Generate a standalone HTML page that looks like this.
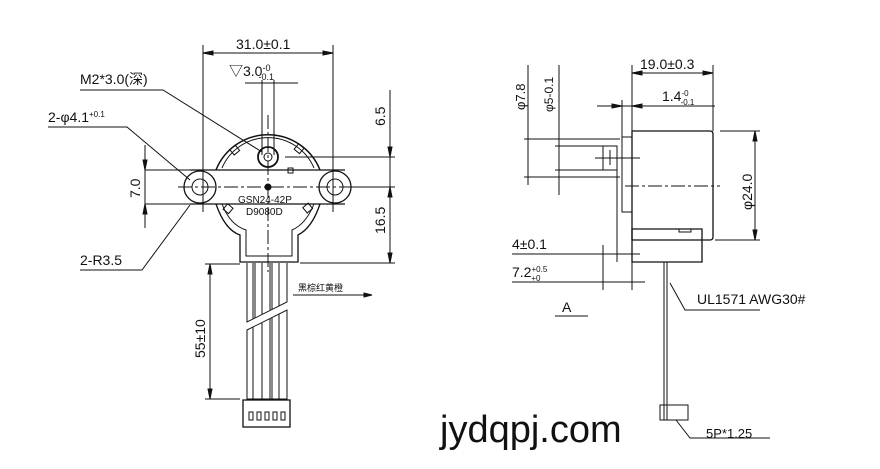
<!DOCTYPE html>
<html><head><meta charset="utf-8"><style>
body{margin:0;background:#fff}
svg{display:block}
text{font-family:"Liberation Sans","Noto Sans CJK SC",sans-serif;fill:#111}
</style></head><body>
<svg width="880" height="469" viewBox="0 0 880 469" stroke="#111" fill="none" stroke-width="1">
<!-- LEFT VIEW -->
<line x1="203" y1="45" x2="203" y2="212"/><line x1="333" y1="45" x2="333" y2="212"/>
<line x1="203" y1="53" x2="333" y2="53"/>
<path d="M203 53l10-2v4zM333 53l-10-2v4z" fill="#111"/>
<text x="236" y="49" font-size="14" stroke="none">31.0±0.1</text>
<text x="229" y="76" font-size="14" stroke="none">▽3.0<tspan font-size="9" dy="-5">-0</tspan><tspan font-size="9" dx="-12" dy="9">-0.1</tspan></text>
<line x1="245" y1="83" x2="298" y2="83"/>
<line x1="262" y1="80" x2="262" y2="155"/><line x1="274" y1="80" x2="274" y2="155"/>
<path d="M216 170 A56 56 0 0 1 320 170" stroke-width="1.5"/>
<path d="M222 168 A50 50 0 0 1 314 168"/>
<path d="M190 170 H345 M190 204 H345" stroke-width="1.3"/>
<circle cx="200" cy="187" r="16" stroke-width="1.3"/><circle cx="200" cy="187" r="8"/>
<circle cx="335" cy="187" r="16" stroke-width="1.3"/><circle cx="335" cy="187" r="8"/>
<path d="M216 204 Q225 230 240 235 L240 262 H298 V235 Q312 228 320 204" stroke-width="1.3"/>
<path d="M222 204 Q230 225 246 230 L246 256 H292 V230 Q306 224 314 204"/>
<circle cx="268" cy="157" r="10" stroke-width="1.8"/><circle cx="268" cy="157" r="4"/>
<rect x="231" y="147" width="7" height="7" transform="rotate(-40 234 150)"/>
<rect x="296" y="145" width="7" height="7" transform="rotate(40 299 148)"/>
<rect x="225" y="205" width="7" height="7" transform="rotate(40 228 208)"/>
<rect x="304" y="205" width="7" height="7" transform="rotate(-40 307 208)"/>
<circle cx="268" cy="187" r="3" fill="#111"/>
<rect x="288" y="168" width="5" height="5"/>
<text x="238" y="203" font-size="10" stroke="none">GSN24-42P</text>
<text x="246" y="215" font-size="10" stroke="none">D9080D</text>
<line x1="178" y1="187" x2="358" y2="187" stroke-dasharray="14 3 3 3"/>
<line x1="268" y1="115" x2="268" y2="272" stroke-dasharray="14 3 3 3"/>
<line x1="285" y1="157" x2="395" y2="157"/><line x1="345" y1="187" x2="395" y2="187"/><line x1="300" y1="263" x2="395" y2="263"/>
<line x1="390" y1="90" x2="390" y2="263"/>
<path d="M390 157l-2-10h4zM390 187l-2 10h4zM390 263l-2-10h4z" fill="#111"/>
<text x="0" y="0" font-size="14" stroke="none" transform="translate(385 126) rotate(-90)">6.5</text>
<text x="0" y="0" font-size="14" stroke="none" transform="translate(385 234) rotate(-90)">16.5</text>
<line x1="145" y1="170" x2="200" y2="170"/><line x1="145" y1="204" x2="200" y2="204"/>
<line x1="145" y1="145" x2="145" y2="228"/>
<path d="M145 170l-2-10h4zM145 204l-2 10h4z" fill="#111"/>
<text x="0" y="0" font-size="14" stroke="none" transform="translate(140 198) rotate(-90)">7.0</text>
<text x="80" y="84" font-size="14" stroke="none">M2*3.0(深)</text>
<path d="M80 90 H163 L262 152"/>
<text x="48" y="122" font-size="14" stroke="none">2-φ4.1<tspan font-size="8" dy="-5">+0.1</tspan></text>
<path d="M48 127 H127 L190 180"/>
<text x="80" y="265" font-size="14" stroke="none">2-R3.5</text>
<path d="M80 270 H142 L190 205"/>
<!-- wires -->
<path d="M247 263 V322 L287 302 V263"/>
<path d="M247 330 L287 310 V399 H247 Z"/>
<path d="M253 263 V319 M255 263 V318 M262 263 V314 M270 263 V310 M272 263 V309 M279 263 V306"/>
<path d="M253 327 V399 M262 323 V399 M270 319 V399 M272 318 V399 M279 314 V399"/>
<rect x="243" y="400" width="47" height="27" stroke-width="1.3"/>
<path d="M249 412h4v8h-4zM257 412h4v8h-4zM265 412h4v8h-4zM273 412h4v8h-4zM281 412h4v8h-4z"/>
<line x1="205" y1="264" x2="240" y2="264"/><line x1="205" y1="399" x2="240" y2="399"/>
<line x1="210" y1="264" x2="210" y2="399"/>
<path d="M210 264l-2 10h4zM210 399l-2-10h4z" fill="#111"/>
<text x="0" y="0" font-size="14" stroke="none" transform="translate(205 358) rotate(-90)">55±10</text>
<text x="298" y="291" font-size="9" stroke="none">黑棕红黄橙</text>
<line x1="293" y1="295" x2="372" y2="295"/>
<path d="M372 295l-8-2v4z" fill="#111"/>
<!-- RIGHT VIEW -->
<path d="M632 131 H710 Q713 131 713 134 V237 Q713 240 710 240 H632 Z" stroke-width="1.3"/>
<path d="M622 137 H632 V212 H622 Z"/>
<path d="M603 146 H617 V170 H603 Z"/>
<line x1="617" y1="146" x2="617" y2="262"/>
<path d="M632 229 H702 V262 H632 Z" stroke-width="1.3"/>
<path d="M679 229h12v3h-12z"/>
<line x1="595" y1="158" x2="640" y2="158"/><line x1="610" y1="150" x2="610" y2="165"/>
<line x1="625" y1="186" x2="720" y2="186" stroke-dasharray="14 3 3 3"/>
<path d="M664 262 V420 M667 262 V420"/>
<path d="M660 405h28v15h-28z"/>
<line x1="632" y1="65" x2="632" y2="131"/><line x1="713" y1="65" x2="713" y2="131"/>
<line x1="632" y1="73" x2="713" y2="73"/>
<path d="M632 73l10-2v4zM713 73l-10-2v4z" fill="#111"/>
<text x="640" y="69" font-size="14" stroke="none">19.0±0.3</text>
<text x="662" y="101" font-size="14" stroke="none">1.4<tspan font-size="8" dy="-5">-0</tspan><tspan font-size="8" dx="-8" dy="9">-0.1</tspan></text>
<line x1="597" y1="106" x2="715" y2="106"/><line x1="622" y1="100" x2="622" y2="137"/>
<path d="M622 106l-10-2v4zM632 106l10-2v4z" fill="#111"/>
<line x1="720" y1="131" x2="760" y2="131"/><line x1="715" y1="240" x2="760" y2="240"/>
<line x1="755" y1="131" x2="755" y2="240"/>
<path d="M755 131l-2 10h4zM755 240l-2-10h4z" fill="#111"/>
<text x="0" y="0" font-size="14" stroke="none" transform="translate(752 210) rotate(-90)">φ24.0</text>
<line x1="528" y1="65" x2="528" y2="185"/><line x1="559" y1="65" x2="559" y2="195"/>
<line x1="524" y1="139" x2="620" y2="139"/><line x1="524" y1="177" x2="620" y2="177"/>
<line x1="555" y1="146" x2="603" y2="146"/><line x1="555" y1="170" x2="603" y2="170"/>
<text x="0" y="0" font-size="13" stroke="none" transform="translate(525 110) rotate(-90)">φ7.8</text>
<text x="0" y="0" font-size="12" stroke="none" transform="translate(553 112) rotate(-90)">φ5-0.1</text>
<line x1="512" y1="254" x2="640" y2="254"/><line x1="512" y1="282" x2="645" y2="282"/>
<line x1="603" y1="245" x2="603" y2="290"/><line x1="632" y1="262" x2="632" y2="290"/>
<text x="512" y="249" font-size="14" stroke="none">4±0.1</text>
<text x="512" y="277" font-size="14" stroke="none">7.2<tspan font-size="8" dy="-5">+0.5</tspan><tspan font-size="8" dx="-16" dy="9">+0</tspan></text>
<text x="562" y="312" font-size="14" stroke="none">A</text>
<line x1="555" y1="316" x2="588" y2="316"/>
<path d="M670 283 L685 310 H760"/>
<text x="697" y="304" font-size="14" stroke="none">UL1571  AWG30#</text>
<path d="M676 420 L690 438 H770"/>
<text x="706" y="438" font-size="13" stroke="none">5P*1.25</text>
<text x="440" y="442" font-size="38" stroke="none" fill="#111">jydqpj.com</text>
</svg>
</body></html>
